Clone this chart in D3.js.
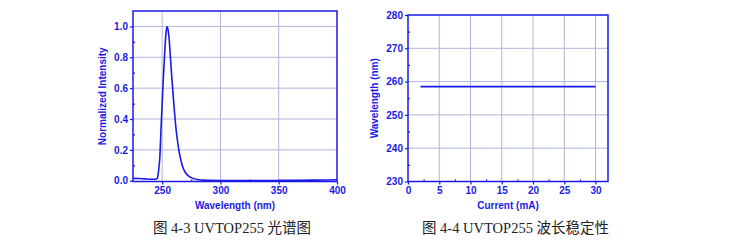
<!DOCTYPE html>
<html>
<head>
<meta charset="utf-8">
<script src="https://cdn.jsdelivr.net/npm/d3@7"></script>
<style>
  body { margin: 0; background: #fff; }
  svg text { font-family: Arial, "Liberation Sans", sans-serif; font-weight: bold; fill: #1a1ae6; }
  .axis path, .axis line { stroke: #1a1ae6; }
  .grid line { stroke: #b0b4da; stroke-width: 1; }
  .caption { font-family: "Times New Roman", "Liberation Serif", "Noto Sans CJK SC", serif; font-weight: normal; fill: #222; font-size: 14.5px; }
</style>
</head>
<body>
<div id="chart"></div>
<script>
// spectrum (fig 4-3)
var wavelength = [225, 230, 235, 240, 244, 246, 247, 248, 249, 250, 251, 252, 253, 254, 255, 256, 257, 258, 259, 260,
  261, 262, 263, 264, 265, 266, 267, 268, 269, 270, 272, 275, 280, 285, 290, 300, 320, 350, 380, 400]
var intensity = [0.015, 0.014, 0.012, 0.010, 0.010, 0.02, 0.07, 0.15, 0.33, 0.5, 0.66, 0.8, 0.93, 1.0, 0.98, 0.92, 0.81, 0.7, 0.6, 0.5,
  0.41, 0.33, 0.27, 0.215, 0.17, 0.135, 0.105, 0.083, 0.066, 0.053, 0.035, 0.02, 0.008, 0.004, 0.002, 0.001, 0.001, 0.002, 0.004, 0.006]
var specXTicks = [250, 300, 350, 400]
var specYTicks = [0.0, 0.2, 0.4, 0.6, 0.8, 1.0]

// wavelength stability (fig 4-4)
var current = [2, 5, 10, 15, 20, 25, 30]
var peakWavelength = [258.5, 258.5, 258.5, 258.5, 258.5, 258.5, 258.5]
var stabXTicks = [0, 5, 10, 15, 20, 25, 30]
var stabYTicks = [230, 240, 250, 260, 270, 280]

var captions = ['图 4-3 UVTOP255 光谱图', '图 4-4 UVTOP255 波长稳定性']

var blue = '#1a1ae6'
var svg = d3.select('#chart').append('svg').attr('width', 733).attr('height', 241)

function panel(opt){
  var g = svg.append('g')
  var x = d3.scaleLinear().domain(opt.xDomain).range([opt.left, opt.right])
  var y = d3.scaleLinear().domain(opt.yDomain).range([opt.bottom, opt.top])

  // grid
  var grid = g.append('g').attr('class', 'grid')
  grid.selectAll('line.v').data(opt.xTicks.filter(function(d){ return x(d) > opt.left + 1 && x(d) < opt.right - 1 }))
    .enter().append('line').attr('x1', x).attr('x2', x).attr('y1', opt.top).attr('y2', opt.bottom)
  grid.selectAll('line.h').data(opt.yTicks.filter(function(d){ return y(d) > opt.top + 1 && y(d) < opt.bottom - 1 }))
    .enter().append('line').attr('y1', y).attr('y2', y).attr('x1', opt.left).attr('x2', opt.right)

  // data line
  var line = d3.line().x(function(d){ return x(d[0]) }).y(function(d){ return y(d[1]) })
  if (opt.curve) line.curve(opt.curve)
  g.append('path').datum(d3.zip(opt.xs, opt.ys))
    .attr('d', line).attr('fill', 'none').attr('stroke', blue).attr('stroke-width', 1.6)

  // frame
  g.append('rect').attr('x', opt.left).attr('y', opt.top)
    .attr('width', opt.right - opt.left).attr('height', opt.bottom - opt.top)
    .attr('fill', 'none').attr('stroke', blue).attr('stroke-width', 1.5)

  // axes: major ticks outward, minor inward
  g.append('g').attr('class', 'axis').attr('transform', 'translate(0,' + opt.bottom + ')')
    .call(d3.axisBottom(x).tickValues(opt.xTicks).tickSize(3).tickPadding(2).tickFormat(opt.xFormat))
  g.append('g').attr('class', 'axis').attr('transform', 'translate(' + opt.left + ',0)')
    .call(d3.axisLeft(y).tickValues(opt.yTicks).tickSize(3).tickPadding(2).tickFormat(opt.yFormat))
  g.append('g').attr('class', 'axis').attr('transform', 'translate(0,' + opt.bottom + ')')
    .call(d3.axisBottom(x).tickValues(opt.xMinor).tickSize(-2).tickFormat(''))
  g.append('g').attr('class', 'axis').attr('transform', 'translate(' + opt.left + ',0)')
    .call(d3.axisLeft(y).tickValues(opt.yMinor).tickSize(-2).tickFormat(''))
  g.selectAll('.axis path').remove()
  g.selectAll('.axis line').attr('stroke-width', 1.2)
  g.selectAll('.axis text').style('font-size', '10px').attr('fill', blue)

  g.append('text').attr('x', (opt.left + opt.right) / 2).attr('y', opt.bottom + 27)
    .attr('text-anchor', 'middle').style('font-size', '10px').text(opt.xLabel)
  g.append('text').attr('transform', 'translate(' + opt.yLabelX + ',' + (opt.top + opt.bottom) / 2 + ') rotate(-90)')
    .attr('text-anchor', 'middle').attr('dy', '0.35em').style('font-size', '10px').text(opt.yLabel)

  g.append('text').attr('class', 'caption').attr('x', opt.capX).attr('y', 233).text(opt.caption)
}

panel({
  left: 133, right: 337, top: 11, bottom: 181.5,
  xDomain: [225, 400], yDomain: [-0.005, 1.1],
  xs: wavelength, ys: intensity, curve: d3.curveMonotoneX,
  xTicks: specXTicks, yTicks: specYTicks,
  xMinor: [275, 325, 375], yMinor: [0.1, 0.3, 0.5, 0.7, 0.9],
  xFormat: d3.format('d'), yFormat: d3.format('.1f'),
  xLabel: 'Wavelength (nm)', yLabel: 'Normalized Intensity', yLabelX: 102,
  caption: captions[0], capX: 153
})

panel({
  left: 408, right: 608, top: 15, bottom: 181.5,
  xDomain: [0, 32], yDomain: [230, 280],
  xs: current, ys: peakWavelength,
  xTicks: stabXTicks, yTicks: stabYTicks,
  xMinor: [2.5, 7.5, 12.5, 17.5, 22.5, 27.5], yMinor: [235, 245, 255, 265, 275],
  xFormat: d3.format('d'), yFormat: d3.format('d'),
  xLabel: 'Current (mA)', yLabel: 'Wavelength (nm)', yLabelX: 374,
  caption: captions[1], capX: 422
})
</script>
</body>
</html>
